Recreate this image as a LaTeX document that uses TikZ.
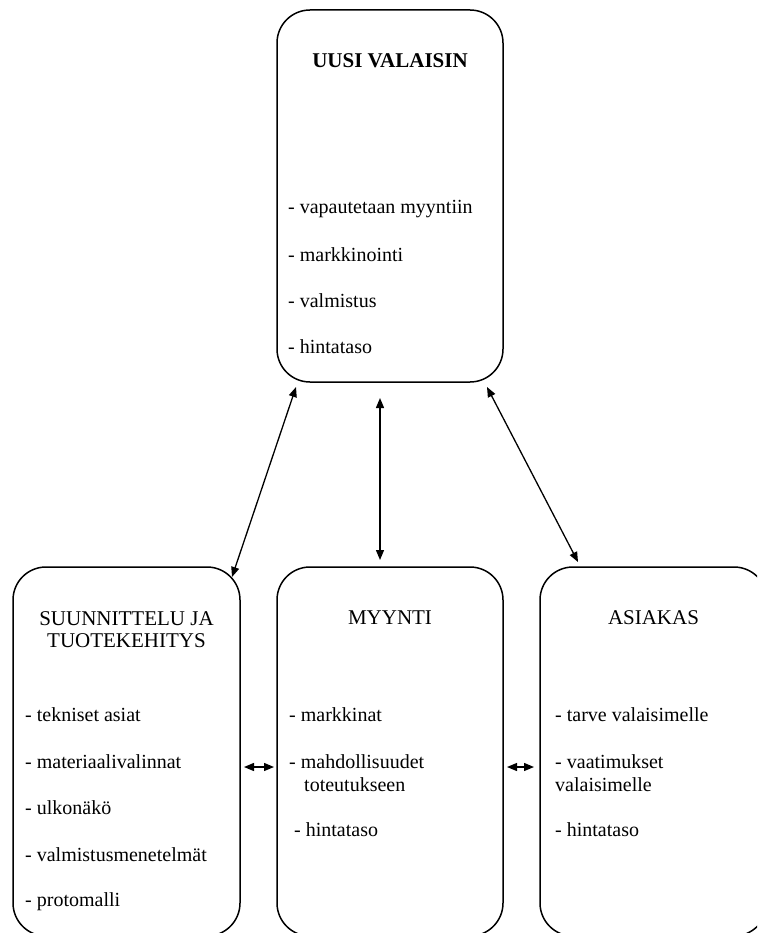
\documentclass[tikz,border=0pt]{standalone}
\usepackage{fontspec}
\setmainfont{Liberation Serif}
\usetikzlibrary{arrows.meta}

\begin{document}
\begin{tikzpicture}[x=1pt,y=-1pt,
	box/.style={draw,line width=1.5pt,rounded corners=33pt,inner sep=0pt},
	otsikko/.style={anchor=base,inner sep=0pt,font=\fontsize{21}{24}\selectfont},
	kohta/.style={anchor=base west,inner sep=0pt,font=\fontsize{20}{24}\selectfont},
	nuoli/.style={line width=1.3pt,{Triangle[length=10pt,width=8pt]}-{Triangle[length=10pt,width=8pt]}}]
\useasboundingbox (0,0) rectangle (757,933);
\clip (0,0) rectangle (757,933);

\node[box,minimum width=226,minimum height=372] (uusi) at (390,196){};
\node[box,minimum width=227,minimum height=369] (suun) at (126.5,751.5){};
\node[box,minimum width=226,minimum height=369] (myynti) at (390,751.5){};
\node[box,minimum width=227,minimum height=369] (asiakas) at (653.5,751.5){};

%uusi valaisin
\node[otsikko] (uusi-o) at (390,68){\textbf{UUSI VALAISIN}};
\node[kohta] (uusi-1) at (288,214){- vapautetaan myyntiin};
\node[kohta] (uusi-2) at (288,261){- markkinointi};
\node[kohta] (uusi-3) at (288,307){- valmistus};
\node[kohta] (uusi-4) at (288,353){- hintataso};
%suunnittelu
\node[otsikko] (suun-o1) at (126.5,625){SUUNNITTELU JA};
\node[otsikko] (suun-o2) at (126.5,647){TUOTEKEHITYS};
\node[kohta] (suun-1) at (25,721){- tekniset asiat};
\node[kohta] (suun-2) at (25,768){- materiaalivalinnat};
\node[kohta] (suun-3) at (25,814){- ulkonäkö};
\node[kohta] (suun-4) at (25,861){- valmistusmenetelmät};
\node[kohta] (suun-5) at (25,906){- protomalli};
%myynti
\node[otsikko] (myynti-o) at (390,624){MYYNTI};
\node[kohta] (myynti-1) at (289,721){- markkinat};
\node[kohta] (myynti-2) at (289,768){- mahdollisuudet};
\node[kohta] (myynti-2b) at (304,791){toteutukseen};
\node[kohta] (myynti-3) at (294,836){- hintataso};
%asiakas
\node[otsikko] (asiakas-o) at (653.5,624){ASIAKAS};
\node[kohta] (asiakas-1) at (555,721){- tarve valaisimelle};
\node[kohta] (asiakas-2) at (555,768){- vaatimukset};
\node[kohta] (asiakas-2b) at (555,791){valaisimelle};
\node[kohta] (asiakas-3) at (555,836){- hintataso};

%nuolten päät
\coordinate (ua) at (296,387);
\coordinate (sa) at (232,577);
\coordinate (ub) at (380,398);
\coordinate (mb) at (380,560);
\coordinate (uc) at (487,387);
\coordinate (ac) at (578,562);
\coordinate (sm1) at (244,767);
\coordinate (sm2) at (274,767);
\coordinate (ma1) at (507,767);
\coordinate (ma2) at (534,767);

\begin{scope}[nuoli]
\draw (ua) -- (sa);
\draw (ub) -- (mb);
\draw (uc) -- (ac);
\draw (sm1) -- (sm2);
\draw (ma1) -- (ma2);
\end{scope}
\end{tikzpicture}
\end{document}
